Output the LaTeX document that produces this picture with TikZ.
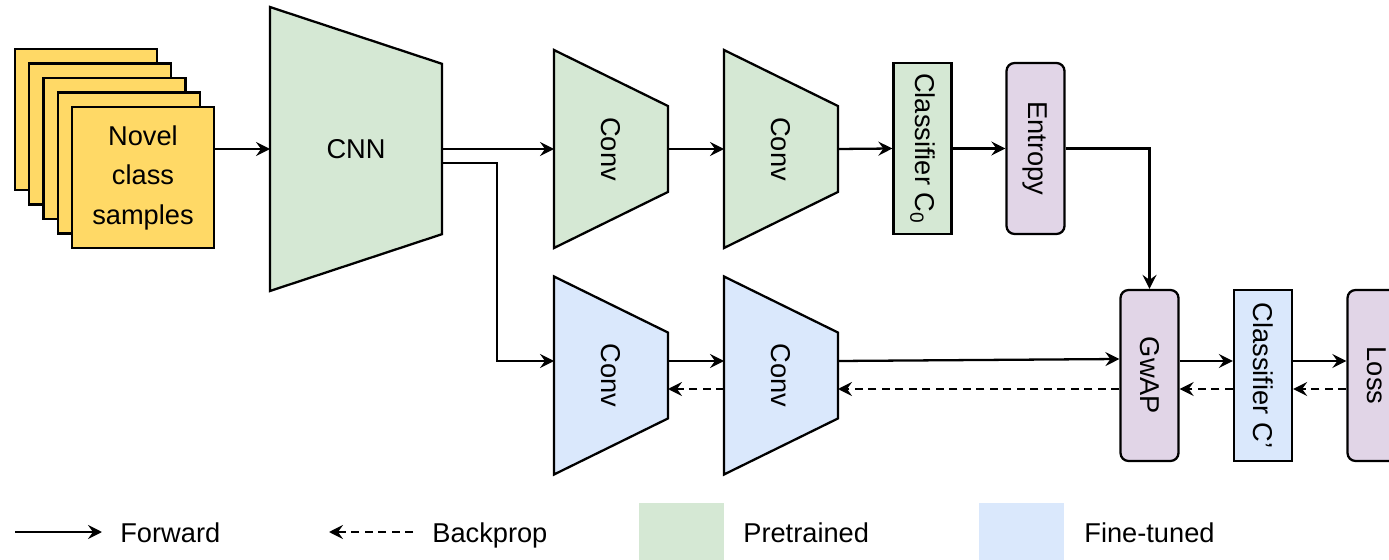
\documentclass[tikz,border=0pt]{standalone}
\usepackage{fontspec}
\setmainfont{Liberation Sans}
\usepackage{graphicx}
\usetikzlibrary{arrows.meta, positioning, calc, backgrounds}
\definecolor{pretrained}{HTML}{D5E8D4}
\definecolor{finetuned}{HTML}{DAE8FC}
\definecolor{lossviolet}{HTML}{E1D5E7}
\definecolor{sampleyellow}{HTML}{FFD966}

\begin{document}
\begin{tikzpicture}[
    x=0.02cm, y=-0.02cm,
    font=\fontsize{15.5}{22.5}\selectfont,
    sample/.style={rectangle, draw, fill=sampleyellow, line width=1.3pt,
                   minimum width=2.84cm, minimum height=2.82cm, align=center},
    cnnbox/.style={rectangle, inner sep=0pt, outer sep=0pt,
                   minimum width=3.44cm, minimum height=5.68cm},
    convbox/.style={rectangle, inner sep=0pt, outer sep=0pt,
                   minimum width=2.28cm, minimum height=3.96cm},
    block/.style={rectangle, draw, fill=#1, line width=1.3pt, inner sep=0pt,
                   minimum width=1.16cm, minimum height=3.42cm},
    roundblock/.style={block=#1, rounded corners=0.16cm},
    swatch/.style={rectangle, fill=#1, minimum size=1.7cm},
    keytext/.style={anchor=base west, inner sep=0pt},
    fwd/.style={-{Stealth[length=2.8mm, width=2.8mm, inset=1mm]}, line width=1.3pt},
    bwd/.style={fwd, dash pattern=on 0.16cm off 0.11cm}
]
\useasboundingbox (0,0) rectangle (1389,560);

% Input stack
\foreach \i in {4,3,2,1}
  \node[sample] (back\i) at (143-14.3*\i, 177.5-14.5*\i) {};
\node[sample] (samples) at (143,177.5) {Novel\\class\\samples};

% Pretrained branch
\node[cnnbox] (cnn) at (356,149) {CNN};
\node[convbox] (convA) at (611,149) {\rotatebox{-90}{Conv}};
\node[convbox] (convB) at (781,149) {\rotatebox{-90}{Conv}};
\node[block=pretrained] (clsA) at (922.5,148.5) {\rotatebox{-90}{Classifier C\textsubscript{0}}};
\node[roundblock=lossviolet] (entropy) at (1035.5,148.5) {\rotatebox{-90}{Entropy}};

% Fine-tuned branch
\node[convbox] (convC) at (611,375.5) {\rotatebox{-90}{Conv}};
\node[convbox] (convD) at (781,375.5) {\rotatebox{-90}{Conv}};
\node[roundblock=lossviolet] (gwap) at (1149.5,375.5) {\rotatebox{-90}{GwAP}};
\node[block=finetuned] (clsB) at (1263,375.5) {\rotatebox{-90}{Classifier C'}};
\node[roundblock=lossviolet] (loss) at (1376.5,375.5) {\rotatebox{-90}{Loss}};

% Trapezoid outlines
\begin{scope}[on background layer]
\foreach \n/\c/\f in {cnn/pretrained/0.2, convA/pretrained/0.283, convB/pretrained/0.283,
                      convC/finetuned/0.283, convD/finetuned/0.283}
  \draw[line width=1.3pt, fill=\c] (\n.north west)
    -- ($(\n.north east)!\f!(\n.south east)$)
    -- ($(\n.south east)!\f!(\n.north east)$)
    -- (\n.south west) -- cycle;
\end{scope}

% Forward
\draw[fwd] (samples.east |- cnn.west) -- (cnn.west);
\draw[fwd] (cnn.east) -- (convA.west);
\draw[fwd] ($(cnn.east)+(0,14)$) -- ++(55,0) |- ($(convC.west)+(0,-14.5)$);
\draw[fwd] (convA.east) -- (convB.west);
\draw[fwd] (convB.east) -- (clsA.west);
\draw[fwd] (clsA.east) -- (entropy.west);
\draw[fwd] (entropy.east) -| (gwap.north);
\draw[fwd] ($(convC.east)+(0,-14.5)$) -- ($(convD.west)+(0,-14.5)$);
\draw[fwd] ($(convD.east)+(0,-14.5)$) -- ($(gwap.west)+(0,-16.5)$);
\draw[fwd] ($(gwap.east)+(0,-14.5)$) -- ($(clsB.west)+(0,-14.5)$);
\draw[fwd] ($(clsB.east)+(0,-14.5)$) -- ($(loss.west)+(0,-14.5)$);

% Backprop
\draw[bwd] ($(loss.west)+(0,13.5)$) -- ($(clsB.east)+(0,13.5)$);
\draw[bwd] ($(clsB.west)+(0,13.5)$) -- ($(gwap.east)+(0,13.5)$);
\draw[bwd] ($(gwap.west)+(0,13.5)$) -- ($(convD.east)+(0,13.5)$);
\draw[bwd] ($(convD.west)+(0,13.5)$) -- ($(convC.east)+(0,13.5)$);

% Legend
\coordinate (fwdA) at (15,532);
\coordinate (fwdB) at (102,532);
\draw[fwd] (fwdA) -- (fwdB);
\node[keytext] (fwdlbl) at (120,542) {Forward};
\coordinate (bwdA) at (413,532);
\coordinate (bwdB) at (329,532);
\draw[bwd] (bwdA) -- (bwdB);
\node[keytext] (bwdlbl) at (432,542) {Backprop};
\node[swatch=pretrained] (keyA) at (681.5,545.5) {};
\node[keytext] (keyAlbl) at (743,542) {Pretrained};
\node[swatch=finetuned] (keyB) at (1021.5,545.5) {};
\node[keytext] (keyBlbl) at (1084,542) {Fine-tuned};

\end{tikzpicture}
\end{document}
